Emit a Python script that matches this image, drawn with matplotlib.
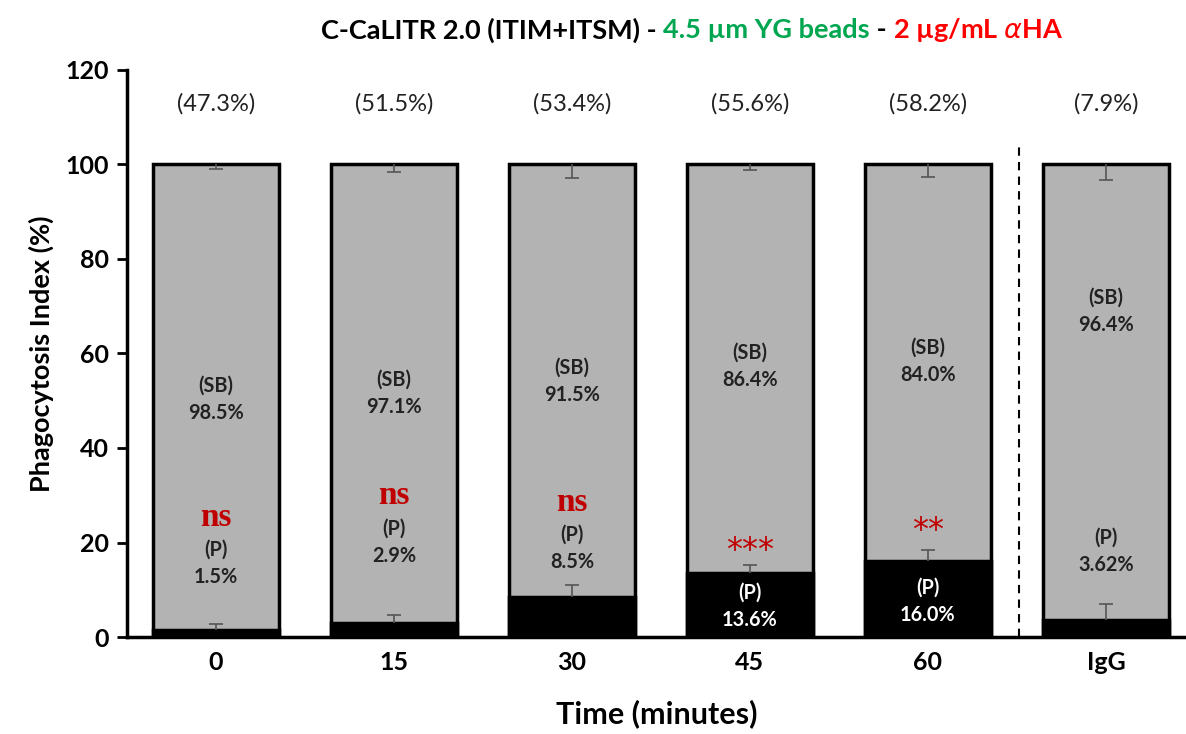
import numpy as np
import matplotlib
matplotlib.use("Agg")
import matplotlib.pyplot as plt

plt.rcParams['font.family'] = ['Lato', 'DejaVu Sans']

# data
groups = ["0", "15", "30", "45", "60", "IgG"]
p_vals = [1.5, 2.9, 8.5, 13.6, 16.0, 3.62]
sb_vals = [98.5, 97.1, 91.5, 86.4, 84.0, 96.4]
p_err = [1.2, 1.8, 2.6, 1.6, 2.5, 3.3]
top_err = [1.0, 1.6, 2.8, 1.2, 2.6, 3.4]
pct_total = ["(47.3%)", "(51.5%)", "(53.4%)", "(55.6%)", "(58.2%)", "(7.9%)"]
sig = ["ns", "ns", "ns", "***", "**", ""]

# label positions (data y)
sb_y = [50.2, 51.5, 54.1, 57.2, 58.4, 68.9]
p_y = [15.6, 20.0, 18.7, 6.5, 7.5, 18.1]
sig_y = [25.2, 30.0, 28.4, 18.3, 22.6, 0]

fig = plt.figure(figsize=(11.86, 7.34), dpi=100)
ax = fig.add_axes([0.107, 0.132, 0.893, 0.773])

x = np.arange(len(groups))
w = 0.71
zeros = np.zeros(len(x))
ax.bar(x, [100] * len(x), width=w, color="#b3b3b3", edgecolor="black", linewidth=2.5, zorder=2)
ax.bar(x, p_vals, width=w, color="black", edgecolor="black", linewidth=2.5, zorder=3)

# one-sided error bars (hide cap on the zero side)
eb1 = ax.errorbar(x, p_vals, yerr=[zeros, p_err], fmt="none", ecolor="#555555",
                  elinewidth=1.2, capsize=5, capthick=1.2, zorder=4)
eb1[1][0].set_visible(False)
eb2 = ax.errorbar(x, [100] * len(x), yerr=[top_err, zeros], fmt="none", ecolor="#555555",
                  elinewidth=1.2, capsize=5, capthick=1.2, zorder=4)
eb2[1][1].set_visible(False)

for i in range(len(x)):
    ax.text(x[i], 112.8, pct_total[i], ha="center", va="center", fontsize=17, color="#222222")
    ax.text(x[i], sb_y[i], "(SB)\n" + f"{sb_vals[i]:.1f}%", ha="center", va="center",
            fontsize=14.3, fontweight="bold", color="#222222", linespacing=1.45)
    plab = f"{p_vals[i]:.2f}%" if groups[i] == "IgG" else f"{p_vals[i]:.1f}%"
    pc = "white" if p_vals[i] > 10 else "#222222"
    ax.text(x[i], p_y[i], "(P)\n" + plab, ha="center", va="center",
            fontsize=14.3, fontweight="bold", color=pc, linespacing=1.45, zorder=5)
    if sig[i] == "ns":
        ax.text(x[i], sig_y[i], "ns", ha="center", va="center", fontsize=24,
                fontweight="bold", color="#c00000", family="Liberation Serif")
    elif sig[i]:
        ax.text(x[i], sig_y[i], sig[i], ha="center", va="center", fontsize=23,
                color="#c00000", family="DejaVu Sans")

ax.plot([4.51, 4.51], [0, 104], color="black", linestyle=(0, (4, 3)), linewidth=1.5, zorder=1)

ax.set_xlim(-0.5, 5.45)
ax.set_ylim(0, 120)
ax.set_yticks(range(0, 121, 20))
ax.set_xticks(x)
ax.set_xticklabels(groups)
for lab in ax.get_xticklabels() + ax.get_yticklabels():
    lab.set_fontweight("bold")
    lab.set_fontsize(18)
ax.tick_params(axis="x", length=0, pad=10)
ax.tick_params(axis="y", length=7, width=2, direction="out", pad=6)
ax.spines["top"].set_visible(False)
ax.spines["right"].set_visible(False)
ax.spines["left"].set_linewidth(2.5)
ax.spines["bottom"].set_linewidth(2.5)

ax.set_ylabel("Phagocytosis Index (%)", fontsize=19.5, fontweight="bold", labelpad=8)
ax.set_xlabel("Time (minutes)", fontsize=22, fontweight="bold", labelpad=18)

# multi-colour title
fig.canvas.draw()
r = fig.canvas.get_renderer()
parts = [("C-CaLITR 2.0 (ITIM+ITSM) - ", "black"), ("4.5 \u00b5m YG beads", "#00a650"),
         (" - ", "black"), ("2 \u00b5g/mL $\\alpha$HA", "red")]
xpos = 321 / 1186
for txt, col in parts:
    t = fig.text(xpos, 1 - 30 / 734, txt, color=col, fontsize=19.5, fontweight="bold", va="center")
    bb = t.get_window_extent(renderer=r)
    xpos += bb.width / fig.bbox.width

fig.savefig("out.png", dpi=100)
